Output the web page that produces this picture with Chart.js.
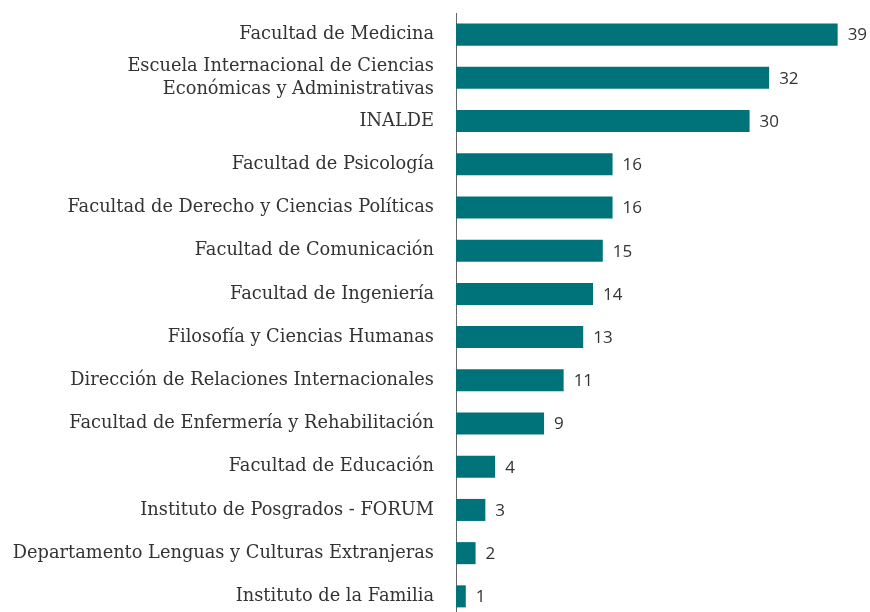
<!DOCTYPE html>
<html>
<head>
<meta charset="utf-8">
<script src="https://cdn.jsdelivr.net/npm/chart.js@4"></script>
<style>
  html, body { margin: 0; padding: 0; background: #fff; overflow: hidden; }
  #wrap { width: 870px; height: 671px; margin-top: -20px; position: relative; }
</style>
</head>
<body>
<div id="wrap"><canvas id="chart"></canvas></div>
<script>
const categories = [
  "Facultad de Medicina",
  ["Escuela Internacional de Ciencias", "Económicas y Administrativas"],
  "INALDE",
  "Facultad de Psicología",
  "Facultad de Derecho y Ciencias Políticas",
  "Facultad de Comunicación",
  "Facultad de Ingeniería",
  "Filosofía y Ciencias Humanas",
  "Dirección de Relaciones Internacionales",
  "Facultad de Enfermería y Rehabilitación",
  "Facultad de Educación",
  "Instituto de Posgrados - FORUM",
  "Departamento Lenguas y Culturas Extranjeras",
  "Instituto de la Familia"
];
const values = [39, 32, 30, 16, 16, 15, 14, 13, 11, 9, 4, 3, 2, 1];

const valueLabels = {
  id: "valueLabels",
  afterDatasetsDraw(chart) {
    const ctx = chart.ctx;
    const meta = chart.getDatasetMeta(0);
    ctx.save();
    ctx.font = "17px 'Open Sans'";
    ctx.fillStyle = "#333";
    ctx.textAlign = "left";
    ctx.textBaseline = "middle";
    meta.data.forEach((bar, i) => {
      ctx.fillText(values[i], bar.x + 10, bar.y + 1);
    });
    ctx.restore();
  }
};

new Chart(document.getElementById("chart"), {
  type: "bar",
  data: {
    labels: categories,
    datasets: [{
      data: values,
      backgroundColor: "#00737a",
      barPercentage: 0.51,
      categoryPercentage: 1
    }]
  },
  options: {
    indexAxis: "y",
    responsive: true,
    maintainAspectRatio: false,
    animation: false,
    layout: { padding: { top: 11, bottom: 3, right: 3, left: 0 } },
    plugins: { legend: { display: false }, tooltip: { enabled: false } },
    scales: {
      x: {
        min: 0, max: 42,
        display: false
      },
      y: {
        afterFit(axis) { axis.width = 456; },
        grid: { display: false, drawTicks: false },
        border: { display: true, color: "#666", width: 1 },
        ticks: {
          autoSkip: false,
          padding: 22,
          color: "#333",
          font: { family: "'DejaVu Serif'", size: 17.8, lineHeight: 1.24 }
        }
      }
    }
  },
  plugins: [valueLabels]
});
</script>
</body>
</html>
